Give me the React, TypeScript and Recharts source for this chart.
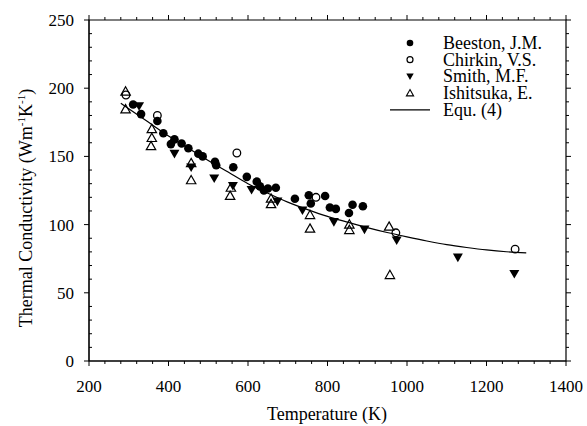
import { ScatterChart, Scatter, XAxis, YAxis, Legend, ReferenceArea } from "recharts";

// temperature (K) / thermal conductivity (W m-1 K-1)
const beeston = [
  { t: 311, k: 188 }, { t: 331, k: 181 }, { t: 372, k: 176 }, { t: 387, k: 167 },
  { t: 406, k: 159 }, { t: 415, k: 162.5 }, { t: 433, k: 159.5 }, { t: 450, k: 156 },
  { t: 475, k: 152 }, { t: 486, k: 150 }, { t: 517, k: 146 }, { t: 520, k: 143.5 },
  { t: 563, k: 142 }, { t: 597, k: 135 }, { t: 622, k: 131.5 }, { t: 630, k: 128 },
  { t: 640, k: 125 }, { t: 650, k: 126.5 }, { t: 670, k: 127 }, { t: 718, k: 119 },
  { t: 753, k: 121.5 }, { t: 758, k: 115.5 }, { t: 794, k: 121 }, { t: 806, k: 112.5 },
  { t: 821, k: 111.5 }, { t: 854, k: 108.5 }, { t: 863, k: 114.5 }, { t: 889, k: 113.5 },
];

const chirkin = [
  { t: 293, k: 195 }, { t: 372, k: 180 }, { t: 572, k: 152.5 },
  { t: 771, k: 120 }, { t: 972, k: 94 }, { t: 1272, k: 82 },
];

const smith = [
  { t: 326, k: 187 }, { t: 415, k: 152 }, { t: 457, k: 142 }, { t: 515, k: 134 },
  { t: 562, k: 128.5 }, { t: 609, k: 125.5 }, { t: 674, k: 117 }, { t: 737, k: 110.5 },
  { t: 816, k: 102 }, { t: 893, k: 96.5 }, { t: 974, k: 88.5 }, { t: 1128, k: 76 },
  { t: 1270, k: 64 },
];

const ishitsuka = [
  { t: 292, k: 197.5 }, { t: 292, k: 184.5 }, { t: 358, k: 170 }, { t: 358, k: 163.5 },
  { t: 356, k: 157.5 }, { t: 457, k: 145 }, { t: 457, k: 132.5 }, { t: 557, k: 127 },
  { t: 555, k: 121 }, { t: 658, k: 119 }, { t: 658, k: 115 }, { t: 756, k: 107 },
  { t: 756, k: 97 }, { t: 855, k: 100 }, { t: 855, k: 96 }, { t: 955, k: 98.5 },
  { t: 957, k: 63 },
];

// Equ. (4) curve as drawn
const equ4 = [
  { t: 280, k: 189 }, { t: 300, k: 185 }, { t: 350, k: 175 }, { t: 400, k: 165 },
  { t: 450, k: 156 }, { t: 500, k: 147 }, { t: 550, k: 138.5 }, { t: 600, k: 130 },
  { t: 650, k: 123 }, { t: 700, k: 116.5 }, { t: 750, k: 111 }, { t: 800, k: 106 },
  { t: 850, k: 101.8 }, { t: 900, k: 97.8 }, { t: 950, k: 94.2 }, { t: 1000, k: 91 },
  { t: 1050, k: 88 }, { t: 1100, k: 85.3 }, { t: 1150, k: 83.2 }, { t: 1200, k: 81.4 },
  { t: 1250, k: 80.1 }, { t: 1300, k: 79.3 },
];

const xTicks = [
  200, 240, 280, 320, 360, 400, 440, 480, 520, 560, 600, 640, 680, 720, 760, 800,
  840, 880, 920, 960, 1000, 1040, 1080, 1120, 1160, 1200, 1240, 1280, 1320, 1360, 1400,
];
const yTicks = [
  0, 10, 20, 30, 40, 50, 60, 70, 80, 90, 100, 110, 120, 130, 140, 150, 160, 170,
  180, 190, 200, 210, 220, 230, 240, 250,
];

const FONT = '"Liberation Serif", "Times New Roman", serif';
const PLOT_W = 477;
const PLOT_H = 341;

const Dot = (p: any) => <circle cx={p.cx} cy={p.cy} r={4.3} fill="#000" />;
const Ring = (p: any) => (
  <circle cx={p.cx} cy={p.cy} r={3.8} fill="none" stroke="#000" strokeWidth={1.3} />
);
const Down = (p: any) => (
  <path
    d={`M${p.cx - 5},${p.cy - 3.8}L${p.cx + 5},${p.cy - 3.8}L${p.cx},${p.cy + 4.8}Z`}
    fill="#000"
  />
);
const Up = (p: any) => (
  <path
    d={`M${p.cx},${p.cy - 4.8}L${p.cx + 4.7},${p.cy + 3.5}L${p.cx - 4.7},${p.cy + 3.5}Z`}
    fill="none"
    stroke="#000"
    strokeWidth={1.2}
  />
);

// bottom axis ticks + mirrored ticks on the top frame
const BottomTick = ({ x, y, payload }: any) => {
  const major = payload.value % 200 === 0;
  const len = major ? 5 : 3;
  const top = y - PLOT_H;
  return (
    <g>
      <line x1={x} x2={x} y1={y} y2={y + len} stroke="#000" strokeWidth={1} />
      <line x1={x} x2={x} y1={top} y2={top - len} stroke="#000" strokeWidth={1} />
      {major && (
        <text x={x} y={y + 31} textAnchor="middle" fontSize={17} fontFamily={FONT} fill="#000">
          {payload.value}
        </text>
      )}
    </g>
  );
};

// left axis ticks + mirrored ticks on the right frame
const LeftTick = ({ x, y, payload }: any) => {
  const major = payload.value % 50 === 0;
  const right = x + PLOT_W;
  return (
    <g>
      {major ? (
        <line x1={x - 5} x2={x} y1={y} y2={y} stroke="#000" strokeWidth={1} />
      ) : (
        <line x1={x} x2={x + 3} y1={y} y2={y} stroke="#000" strokeWidth={1} />
      )}
      <line x1={right} x2={right + (major ? 5 : 3)} y1={y} y2={y} stroke="#000" strokeWidth={1} />
      {major && (
        <text x={x - 15} y={y + 6} textAnchor="end" fontSize={17} fontFamily={FONT} fill="#000">
          {payload.value}
        </text>
      )}
    </g>
  );
};

const XTitle = () => (
  <text x={327} y={420} textAnchor="middle" fontSize={18} fontFamily={FONT} fill="#000">
    Temperature (K)
  </text>
);

const YTitle = () => (
  <text
    transform="translate(32,208) rotate(-90)"
    textAnchor="middle"
    fontSize={18}
    fontFamily={FONT}
    fill="#000"
  >
    Thermal Conductivity (Wm
    <tspan dy={-7} fontSize={11}>-1</tspan>
    <tspan dy={7}>K</tspan>
    <tspan dy={-7} fontSize={11}>-1</tspan>
    <tspan dy={7}>)</tspan>
  </text>
);

const legendRows = ["Beeston, J.M.", "Chirkin, V.S.", "Smith, M.F.", "Ishitsuka, E.", "Equ. (4)"];

const LegendBox = () => {
  const mx = 25;
  const rowY = (i: number) => 10 + i * 16.7;
  return (
    <svg width={170} height={95} style={{ display: "block" }}>
      <circle cx={mx} cy={rowY(0)} r={3.3} fill="#000" />
      <circle cx={mx} cy={rowY(1)} r={3} fill="none" stroke="#000" strokeWidth={1.2} />
      <path
        d={`M${mx - 3.7},${rowY(2) - 3}L${mx + 3.7},${rowY(2) - 3}L${mx},${rowY(2) + 3.7}Z`}
        fill="#000"
      />
      <path
        d={`M${mx},${rowY(3) - 3.5}L${mx + 3.6},${rowY(3) + 2.8}L${mx - 3.6},${rowY(3) + 2.8}Z`}
        fill="none"
        stroke="#000"
        strokeWidth={1.1}
      />
      <line x1={5} x2={45} y1={rowY(4)} y2={rowY(4)} stroke="#000" strokeWidth={1.2} />
      {legendRows.map((name, i) => (
        <text key={name} x={58} y={rowY(i) + 6} fontSize={18} fontFamily={FONT} fill="#000">
          {name}
        </text>
      ))}
    </svg>
  );
};

export default function App() {
  return (
    <div style={{ position: "absolute", left: 0, top: 0, width: 587, height: 426 }}>
      <ScatterChart
        width={587}
        height={426}
        margin={{ top: 20, right: 21, bottom: 0, left: 0 }}
      >
        <XAxis
          dataKey="t"
          type="number"
          domain={[200, 1400]}
          ticks={xTicks}
          interval={0}
          height={65}
          tickLine={false}
          tickSize={0}
          tickMargin={0}
          tick={BottomTick}
          axisLine={{ stroke: "#000" }}
          allowDataOverflow
          label={<XTitle />}
        />
        <YAxis
          dataKey="k"
          type="number"
          domain={[0, 250]}
          ticks={yTicks}
          interval={0}
          width={89}
          tickLine={false}
          tickSize={0}
          tickMargin={0}
          tick={LeftTick}
          axisLine={{ stroke: "#000" }}
          allowDataOverflow
          label={<YTitle />}
        />
        {/* plot frame */}
        <ReferenceArea
          x1={200}
          x2={1400}
          y1={0}
          y2={250}
          fill="none"
          stroke="#000"
          strokeWidth={1.2}
          ifOverflow="visible"
        />
        <Legend
          layout="vertical"
          align="center"
          verticalAlign="middle"
          content={<LegendBox />}
          wrapperStyle={{ position: "absolute", left: 385, top: 33, width: 170 }}
        />
        <Scatter name="Beeston, J.M." data={beeston} shape={Dot} isAnimationActive={false} />
        <Scatter name="Chirkin, V.S." data={chirkin} shape={Ring} isAnimationActive={false} />
        <Scatter name="Smith, M.F." data={smith} shape={Down} isAnimationActive={false} />
        <Scatter name="Ishitsuka, E." data={ishitsuka} shape={Up} isAnimationActive={false} />
        <Scatter
          name="Equ. (4)"
          data={equ4}
          line={{ stroke: "#000", strokeWidth: 1.2 }}
          lineJointType="monotoneX"
          shape={() => <g />}
          isAnimationActive={false}
        />
      </ScatterChart>
    </div>
  );
}
